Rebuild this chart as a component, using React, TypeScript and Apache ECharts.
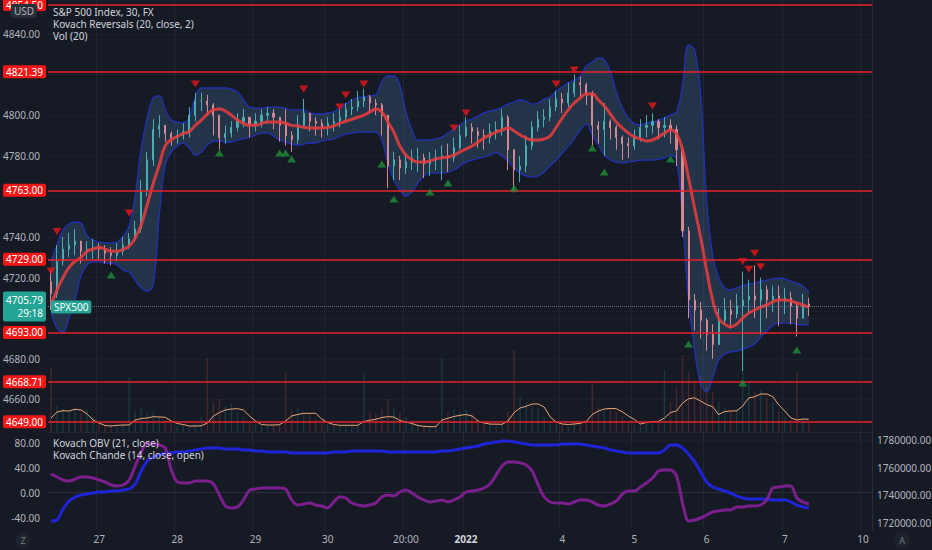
import React, { useEffect, useRef } from 'react';
import * as echarts from 'echarts';

const FONT = '"Noto Sans", "Liberation Sans", sans-serif';
const SLOTS = 137;

const timeTicks: [number, string][] = [
  [8, '27'], [21, '28'], [34, '29'], [46, '30'], [59, '20:00'], [69, '2022'],
  [85, '4'], [97, '5'], [109, '6'], [122, '7'], [135, '10'],
];

const mainLegend = ['S&P 500 Index, 30, FX', 'Kovach Reversals (20, close, 2)', 'Vol (20)'];
const lowerLegend = ['Kovach OBV (21, close)', 'Kovach Chande (14, close, open)'];

const firstOpen = 4718;
const closes = [
  4712, 4728, 4734, 4736, 4738, 4733, 4734, 4735, 4734, 4732,
  4731, 4733, 4736, 4739, 4744, 4763, 4778, 4793, 4795, 4791,
  4789, 4790, 4792, 4800, 4807, 4807, 4805, 4800, 4789, 4791,
  4794, 4797, 4799, 4795, 4797, 4800, 4801, 4799, 4795, 4790,
  4788, 4795, 4801, 4797, 4796, 4794, 4796, 4797, 4799, 4803,
  4804, 4807, 4809, 4806, 4805, 4800, 4775, 4778, 4774, 4777,
  4779, 4779, 4776, 4778, 4779, 4780, 4779, 4784, 4790, 4794,
  4792, 4790, 4789, 4792, 4793, 4799, 4783, 4773, 4775, 4785,
  4794, 4798, 4799, 4804, 4808, 4806, 4811, 4816, 4815, 4811,
  4795, 4793, 4797, 4794, 4789, 4786, 4785, 4789, 4794, 4795,
  4797, 4794, 4795, 4793, 4783, 4743, 4709, 4704, 4699, 4692,
  4687, 4699, 4704, 4702, 4706, 4709, 4711, 4709, 4714, 4709,
  4711, 4709, 4710, 4706, 4700, 4707, 4705.79,
];
const highs = [
  4724, 4736, 4740, 4742, 4744, 4738, 4738, 4739, 4737, 4736,
  4735, 4737, 4740, 4742, 4748, 4768, 4782, 4798, 4800, 4795,
  4792, 4793, 4796, 4804, 4811, 4811, 4810, 4806, 4800, 4795,
  4797, 4801, 4803, 4799, 4801, 4803, 4804, 4803, 4799, 4803,
  4792, 4800, 4808, 4801, 4799, 4798, 4799, 4801, 4803, 4806,
  4808, 4812, 4813, 4810, 4808, 4806, 4790, 4782, 4780, 4781,
  4783, 4784, 4781, 4782, 4783, 4785, 4786, 4789, 4795, 4799,
  4796, 4794, 4793, 4796, 4797, 4803, 4800, 4779, 4780, 4790,
  4797, 4802, 4803, 4808, 4812, 4811, 4816, 4820, 4819, 4816,
  4812, 4797, 4806, 4798, 4795, 4790, 4789, 4793, 4798, 4800,
  4801, 4798, 4799, 4798, 4795, 4785, 4745, 4712, 4708, 4700,
  4697, 4705, 4710, 4709, 4712, 4723, 4719, 4726, 4720, 4716,
  4716, 4716, 4715, 4713, 4708, 4712, 4710,
];
const lows = [
  4704, 4710, 4726, 4730, 4731, 4727, 4729, 4729, 4729, 4727,
  4726, 4728, 4731, 4734, 4738, 4742, 4760, 4775, 4789, 4787,
  4785, 4786, 4788, 4789, 4797, 4802, 4800, 4790, 4783, 4786,
  4789, 4792, 4794, 4789, 4792, 4794, 4796, 4793, 4787, 4785,
  4782, 4786, 4794, 4792, 4790, 4789, 4790, 4792, 4794, 4797,
  4800, 4802, 4804, 4801, 4800, 4790, 4764, 4768, 4768, 4771,
  4773, 4772, 4769, 4770, 4773, 4768, 4772, 4777, 4783, 4789,
  4786, 4784, 4783, 4786, 4788, 4790, 4773, 4762, 4767, 4772,
  4783, 4792, 4794, 4797, 4802, 4801, 4804, 4809, 4809, 4805,
  4785, 4786, 4780, 4788, 4783, 4778, 4779, 4783, 4787, 4789,
  4791, 4788, 4789, 4786, 4775, 4740, 4700, 4694, 4690, 4684,
  4680, 4690, 4697, 4695, 4700, 4674, 4702, 4700, 4692, 4700,
  4703, 4696, 4702, 4697, 4691, 4700, 4701,
];
const kovachMid = [
  4706.5, 4714, 4720, 4725, 4728, 4730, 4733, 4734, 4735, 4734,
  4733, 4733, 4734, 4735.5, 4739.5, 4746, 4756, 4766.5, 4775.5, 4785,
  4788, 4789.5, 4791, 4792, 4795, 4797.6, 4800.6, 4802.6, 4803, 4802,
  4800, 4797.6, 4796, 4795, 4795, 4796, 4796.6, 4796.6, 4796.6, 4796,
  4795, 4794.7, 4794, 4793.7, 4793.7, 4793.7, 4794, 4794.7, 4796, 4797,
  4798, 4799, 4800, 4801.6, 4803, 4801.6, 4796.6, 4791.7, 4784.8, 4780.4,
  4778, 4777, 4777, 4777.5, 4778.5, 4779, 4779.4, 4780.4, 4781.9, 4783.4,
  4784.8, 4786.8, 4788.8, 4790.3, 4791.7, 4792.7, 4793.7, 4792.2, 4790.3, 4788.8,
  4787.8, 4787.8, 4788.3, 4789.8, 4794.2, 4798.6, 4802.6, 4806, 4808.5, 4810.4,
  4810.4, 4807.5, 4804.5, 4800.6, 4796.6, 4793.7, 4791.2, 4789.3, 4788.3, 4787.3,
  4787.8, 4789.3, 4791.2, 4792.7, 4790.7, 4782.9, 4769, 4754.3, 4740, 4723.7,
  4709, 4700, 4697.1, 4695.7, 4697.1, 4700, 4702.5, 4704, 4705.5, 4706.5,
  4708, 4709, 4709, 4708.5, 4707.5, 4706.5, 4705.5,
];
const bandUpper = [
  4727.7, 4736.1, 4743.5, 4746.4, 4747.4, 4746.9, 4740.5, 4738.5, 4737.5, 4737.1,
  4737.1, 4737.5, 4740.5, 4745.4, 4760.7, 4783.8, 4799.1, 4808.5, 4809.5, 4802.6,
  4797.6, 4796.6, 4796.2, 4798.6, 4809, 4813.4, 4813.4, 4813.4, 4813.4, 4813.4,
  4812.9, 4811.4, 4807.5, 4804, 4803.5, 4803.5, 4804, 4804, 4804, 4803.5,
  4802.6, 4802.6, 4802.6, 4801.1, 4800.6, 4800.6, 4801.1, 4801.6, 4803.5, 4805.5,
  4807.5, 4808.5, 4809, 4809.5, 4810, 4816.4, 4819.3, 4819.3, 4814.9, 4801.6,
  4792.7, 4787.8, 4787.8, 4787.8, 4788.3, 4789.3, 4791.2, 4793.2, 4795.2, 4797.1,
  4798.1, 4799.6, 4801.1, 4802.1, 4802.6, 4804, 4805.5, 4806.5, 4807.5, 4807,
  4805.5, 4806, 4808, 4809, 4811.9, 4813.9, 4815.9, 4817.3, 4819.3, 4824.2,
  4826.2, 4828.2, 4827.2, 4821.3, 4811.4, 4803.5, 4798.6, 4795.7, 4795.2, 4796.2,
  4796.6, 4797.6, 4798.6, 4800.1, 4801.6, 4814.9, 4834.6, 4832.1, 4810.9, 4758.2,
  4731.1, 4719.8, 4714.9, 4713.9, 4714.9, 4715.9, 4716.8, 4717.3, 4718.3, 4718.8,
  4719.3, 4719.8, 4719.3, 4718.3, 4717.3, 4715.9, 4712.9,
];
const bandLower = [
  4703, 4695.2, 4693.2, 4700.1, 4709, 4721.3, 4726.2, 4727.7, 4727.7, 4727.2,
  4727.2, 4726.2, 4723.7, 4722.7, 4718.8, 4714.9, 4713.4, 4716.4, 4750.8, 4775.5,
  4781.9, 4784.8, 4786.3, 4783.8, 4780.4, 4781.9, 4785.3, 4787.3, 4787.3, 4786.8,
  4786.8, 4787.8, 4788.3, 4789.3, 4790.2, 4791.2, 4791.2, 4789.7, 4787.8, 4786.8,
  4785.8, 4785.3, 4785.8, 4786.3, 4786.3, 4787.3, 4787.8, 4788.3, 4789.7, 4790.7,
  4791.2, 4791.7, 4791.7, 4791.7, 4791.7, 4787.8, 4776.9, 4768.1, 4763.2, 4760.2,
  4762.2, 4766.6, 4770.1, 4771.5, 4771.5, 4771.5, 4772, 4773, 4775, 4776.9,
  4777.9, 4778.9, 4779.4, 4780.4, 4781.4, 4779.9, 4777.4, 4774, 4771.5, 4770.1,
  4769.6, 4770.1, 4772, 4775, 4777.9, 4781.4, 4784.8, 4788.3, 4792.7, 4795.7,
  4790.2, 4785.3, 4780.4, 4777.9, 4776.9, 4776.5, 4776.9, 4777.4, 4777.9, 4777.9,
  4777.9, 4778.4, 4778.9, 4780.4, 4777.9, 4748.4, 4709, 4684.3, 4668.1, 4663.7,
  4670.6, 4679.4, 4682.4, 4683.4, 4683.8, 4684.8, 4685.8, 4687.3, 4690.7, 4693.7,
  4696.6, 4697.6, 4697.6, 4697.6, 4697.1, 4696.6, 4697.1,
];
const volumes = [
  650, 260, 230, 210, 250, 190, 220, 140, 90, 70,
  80, 60, 90, 540, 210, 240, 190, 210, 160, 120,
  80, 60, 70, 60, 90, 150, 740, 300, 330, 260,
  280, 200, 140, 100, 70, 80, 60, 70, 90, 590,
  220, 240, 200, 180, 130, 90, 70, 60, 70, 80,
  90, 120, 590, 200, 180, 230, 330, 250, 200, 150,
  100, 80, 70, 60, 80, 740, 200, 230, 200, 220,
  180, 120, 80, 70, 60, 90, 200, 820, 350, 300,
  260, 240, 150, 100, 80, 70, 60, 90, 80, 120,
  490, 250, 220, 240, 200, 150, 90, 70, 60, 80,
  70, 90, 620, 300, 450, 770, 600, 500, 560, 450,
  400, 300, 250, 200, 230, 820, 500, 400, 420, 350,
  300, 200, 150, 120, 600, 130, 90,
];
const volumeMA = [
  140, 200, 213, 210, 227, 220, 180, 120, 90, 65,
  60, 67, 70, 70, 120, 135, 140, 153, 150, 147,
  110, 85, 75, 60, 60, 62, 90, 160, 195, 220,
  230, 233, 220, 160, 110, 75, 70, 70, 73, 110,
  160, 175, 187, 187, 187, 130, 95, 75, 67, 67,
  67, 67, 105, 118, 127, 145, 153, 150, 115, 100,
  85, 65, 57, 53, 53, 120, 138, 155, 167, 175,
  160, 110, 90, 79, 78, 77, 110, 195, 240, 257,
  280, 280, 250, 150, 100, 80, 75, 80, 87, 105,
  175, 210, 230, 236, 233, 200, 160, 125, 80, 95,
  104, 106, 140, 195, 210, 290, 332, 342, 310, 275,
  253, 175, 204, 210, 211, 260, 340, 353, 380, 380,
  355, 270, 210, 140, 120, 130, 127,
];
const obv = [
  1721500, 1722200, 1730200, 1735900, 1738800, 1740300, 1741000, 1741700, 1742400, 1742400,
  1743100, 1743100, 1743900, 1744600, 1748200, 1757600, 1764800, 1767700, 1769100, 1770600,
  1770600, 1771300, 1771300, 1772000, 1772700, 1773500, 1774200, 1774200, 1774200, 1773500,
  1773500, 1773500, 1772700, 1772700, 1772000, 1772000, 1771300, 1771300, 1771300, 1771300,
  1770600, 1770600, 1770600, 1770600, 1770600, 1770600, 1770600, 1771300, 1771300, 1771300,
  1772000, 1772000, 1772000, 1772000, 1772000, 1772000, 1771300, 1771300, 1771300, 1771300,
  1771300, 1771300, 1771300, 1771300, 1771300, 1772000, 1772000, 1772700, 1773500, 1774200,
  1774900, 1775600, 1777100, 1777800, 1778500, 1779200, 1779200, 1778500, 1777800, 1777100,
  1776300, 1776300, 1776300, 1776300, 1776300, 1777100, 1777100, 1777100, 1777100, 1776300,
  1775600, 1774900, 1774200, 1772700, 1772000, 1771300, 1770600, 1770600, 1770600, 1770600,
  1770600, 1770600, 1772700, 1776300, 1776300, 1774200, 1769800, 1764100, 1756900, 1749600,
  1746000, 1744600, 1743100, 1741700, 1739500, 1738100, 1737400, 1737400, 1737400, 1737400,
  1736700, 1736700, 1736700, 1735200, 1733000, 1731600, 1730900,
];
const chande = [
  30.1, 25.2, 20.4, 18.8, 22.0, 25.2, 25.2, 23.6, 20.4, 17.2,
  12.4, 10.8, 12.4, 20.4, 42.9, 65.4, 79.9, 78.3, 76.7, 71.9,
  36.5, 17.2, 15.6, 15.6, 18.8, 18.8, 18.8, 14.0, -3.7, -21.4,
  -24.6, -23.0, -11.7, 4.3, 6.0, 7.6, 7.6, 7.6, 7.6, 6.0,
  -11.7, -19.8, -18.2, -16.6, -19.8, -21.4, -24.6, -15.0, -6.9, -8.5,
  -16.6, -19.8, -21.4, -19.8, -16.6, -6.9, -3.7, -5.3, 1.1, 4.3,
  -0.5, -6.9, -11.7, -15.0, -13.3, -11.7, -15.0, -11.7, -6.9, 1.1,
  2.7, 4.3, 7.6, 14.0, 28.5, 42.9, 49.4, 49.4, 47.8, 44.5,
  34.9, 12.4, -6.9, -15.0, -16.6, -16.6, -18.2, -15.0, -11.7, -11.7,
  -15.0, -19.8, -21.4, -18.2, -13.3, -2.1, 2.7, 2.7, 9.2, 15.6,
  23.6, 34.9, 36.5, 36.5, 26.9, -16.6, -45.5, -43.9, -40.7, -35.9,
  -31.0, -29.4, -27.8, -27.8, -23.0, -23.0, -21.4, -21.4, -19.8, -11.7,
  7.6, 9.2, 10.8, 10.8, -8.5, -15.0, -18.2,
];
const sellSignals: [number, number][] = [
  [0, 4723.3], [1, 4742.7], [13, 4751.8], [24, 4815.4], [42, 4812.9], [48, 4804.0],
  [49, 4810.0], [52, 4815.4], [67, 4793.7], [69, 4801.1], [84, 4815.4], [87, 4822.3],
  [100, 4804.5], [115, 4727.9], [116, 4724.1], [117, 4732.0], [118, 4725.4],
];
const buySignals: [number, number][] = [
  [10, 4721.3], [28, 4781.4], [38, 4781.4], [39, 4781.4], [40, 4778.4], [55, 4776.0],
  [57, 4758.7], [63, 4762.2], [66, 4766.6], [77, 4764.1], [90, 4783.8], [92, 4772.0],
  [103, 4778.4], [106, 4687.3], [115, 4668.1], [124, 4684.3],
];
const levels = [4854.5, 4821.39, 4763.0, 4729.0, 4693.0, 4668.71, 4649.0];
const lastPrice = 4705.79;
const countdown = '29:18';
const symbolName = 'SPX500';

const tickMap = new Map<number, string>(timeTicks);
const categories = Array.from({ length: SLOTS }, (_, i) => String(i));

export default function App() {
  const ref = useRef<HTMLDivElement>(null);

  useEffect(() => {
    if (!ref.current) return;
    const chart = echarts.init(ref.current, undefined, { renderer: 'svg' });

    const candleData = closes.map((c, i) => {
      const o = i === 0 ? firstOpen : closes[i - 1];
      return [o, c, Math.min(lows[i], o, c), Math.max(highs[i], o, c)];
    });
    const volData = volumes.map((v, i) => ({
      value: v,
      itemStyle: {
        color: candleData[i][1] >= candleData[i][0] ? 'rgba(38,166,154,0.22)' : 'rgba(239,83,80,0.22)',
      },
    }));
    const bandWidth = bandUpper.map((u, i) => +(u - bandLower[i]).toFixed(2));
    const covered = [...levels, lastPrice];

    const axisText = { color: '#b2b5be', fontSize: 10, fontFamily: FONT };
    const vSplit = {
      show: true,
      interval: (i: number) => tickMap.has(i),
      lineStyle: { color: 'rgba(42,46,57,0.6)', width: 1 },
    };

    const levelLines = levels.map((v) => ({
      yAxis: v,
      lineStyle: { color: '#e8222a', width: 1.5, type: 'solid' },
      label: {
        show: true, position: 'start', formatter: v.toFixed(2), color: '#ffffff',
        backgroundColor: '#f71616', padding: [2, 3, 1, 3], fontSize: 10, fontFamily: FONT,
        distance: 2, borderRadius: 2,
      },
    }));
    const priceLine = {
      yAxis: lastPrice,
      lineStyle: { color: 'rgba(150,155,170,0.4)', width: 1, type: 'dotted' },
      label: {
        show: true, position: 'start', formatter: `${lastPrice.toFixed(2)}\n${countdown}`,
        color: '#ffffff', backgroundColor: '#22a393', padding: [2, 3, 2, 3], lineHeight: 13,
        fontSize: 10, fontFamily: FONT, distance: 2, borderRadius: 2,
      },
    };
    const symbolLine = {
      yAxis: lastPrice,
      lineStyle: { color: 'rgba(150,155,170,0.4)', width: 1, type: 'dotted' },
      label: {
        show: true, position: 'insideStartTop', formatter: symbolName,
        color: '#ffffff', backgroundColor: '#22a393', padding: [2, 3, 1, 3],
        fontSize: 10, fontFamily: FONT, distance: [3, -7], borderRadius: 2,
      },
    };

    const legendStyle = (lines: string[]) => ({
      text: lines.join('\n'), fill: '#d1d4dc', font: `10px ${FONT}`, lineHeight: 12,
      textVerticalAlign: 'top', verticalAlign: 'top',
    });

    const option: any = {
      animation: false,
      backgroundColor: '#161a25',
      textStyle: { fontFamily: FONT },
      grid: [
        { left: 48, right: 60, top: 0, height: 440, outerBoundsMode: 'none' },
        { left: 48, right: 60, top: 0, height: 432, outerBoundsMode: 'none' },
        { left: 48, right: 60, top: 433, height: 97, outerBoundsMode: 'none' },
      ],
      xAxis: [
        {
          type: 'category', gridIndex: 0, data: categories, boundaryGap: true,
          axisLine: { show: false }, axisTick: { show: false }, axisLabel: { show: false },
          splitLine: vSplit,
        },
        {
          type: 'category', gridIndex: 1, data: categories, boundaryGap: true,
          axisLine: { show: true, lineStyle: { color: '#242833' } }, axisTick: { show: false },
          axisLabel: { show: false }, splitLine: { show: false },
        },
        {
          type: 'category', gridIndex: 2, data: categories, boundaryGap: true,
          axisLine: { show: true, lineStyle: { color: '#2a2e39' } }, axisTick: { show: false },
          axisLabel: {
            ...axisText, margin: 4,
            interval: (i: number) => tickMap.has(i),
            formatter: (_v: string, i: number) => {
              const t = tickMap.get(i) || '';
              return t === '2022' ? `{b|${t}}` : t;
            },
            rich: { b: { fontWeight: 'bold', color: '#d1d4dc', fontSize: 10, fontFamily: FONT } },
          },
          splitLine: vSplit,
        },
      ],
      yAxis: [
        {
          type: 'value', gridIndex: 0, position: 'left', min: 4640, max: 4856.75, interval: 20,
          axisLine: { show: false }, axisTick: { show: false },
          axisLabel: {
            ...axisText, margin: 8,
            formatter: (v: number) => {
              if (!(Math.abs(v % 20) < 1e-6 && v > 4640)) return '';
              if (covered.some((c) => Math.abs(c - v) < 6.5)) return '';
              return v.toFixed(2);
            },
          },
          splitLine: { show: true, lineStyle: { color: 'rgba(42,46,57,0.35)' } },
        },
        {
          type: 'value', gridIndex: 0, position: 'right', min: 4640, max: 4856.75,
          axisLine: { show: true, lineStyle: { color: '#2a2e39' } }, axisTick: { show: false },
          axisLabel: { show: false }, splitLine: { show: false },
        },
        { type: 'value', gridIndex: 1, min: 0, max: 4320, show: false },
        {
          type: 'value', gridIndex: 2, position: 'left', min: -60, max: 96, interval: 20,
          axisLine: { show: false }, axisTick: { show: false },
          axisLabel: {
            ...axisText, margin: 8,
            formatter: (v: number) => {
              const r = Math.round(v);
              return Math.abs(v - r) < 1e-6 && r % 40 === 0 && r > -60 ? v.toFixed(2) : '';
            },
          },
          splitLine: { show: false },
        },
        {
          type: 'value', gridIndex: 2, position: 'right', min: 1715000, max: 1785000, interval: 5000,
          axisLine: { show: true, lineStyle: { color: '#2a2e39' } }, axisTick: { show: false },
          axisLabel: {
            ...axisText, margin: 5,
            formatter: (v: number) => (v % 20000 === 0 ? v.toFixed(2) : ''),
          },
          splitLine: { show: false },
        },
      ],
      series: [
        {
          name: 'bandLower', type: 'line', xAxisIndex: 0, yAxisIndex: 0, data: bandLower,
          stack: 'band', smooth: 0.4, symbol: 'none', z: 1,
          lineStyle: { color: '#2230b8', width: 1.3 },
        },
        {
          name: 'bandUpper', type: 'line', xAxisIndex: 0, yAxisIndex: 0, data: bandWidth,
          stack: 'band', smooth: 0.4, symbol: 'none', z: 1,
          lineStyle: { color: '#2230b8', width: 1.3 },
          areaStyle: { color: 'rgba(70,112,155,0.3)', opacity: 1 },
        },
        {
          name: 'volume', type: 'bar', xAxisIndex: 1, yAxisIndex: 2, data: volData,
          barWidth: 1.5, z: 1,
        },
        {
          name: 'volumeMA', type: 'line', xAxisIndex: 1, yAxisIndex: 2, data: volumeMA,
          symbol: 'none', z: 3, lineStyle: { color: '#eea676', width: 1 },
        },
        {
          name: 'price', type: 'candlestick', xAxisIndex: 0, yAxisIndex: 0, data: candleData,
          barWidth: 1.6, z: 2,
          itemStyle: {
            color: '#4aaeb0', color0: '#d48892', borderColor: '#4aaeb0', borderColor0: '#d48892',
            borderWidth: 1,
          },
        },
        {
          name: 'kovach', type: 'line', xAxisIndex: 0, yAxisIndex: 0, data: kovachMid,
          smooth: 0.5, symbol: 'none', z: 4,
          lineStyle: { color: 'rgba(230,60,62,0.88)', width: 3 },
        },
        {
          name: 'sell', type: 'scatter', xAxisIndex: 0, yAxisIndex: 0, data: sellSignals,
          symbol: 'triangle', symbolRotate: 180, symbolSize: [9, 7], z: 6, clip: false,
          itemStyle: { color: '#e8151b' },
          markLine: {
            silent: true, symbol: ['none', 'none'], animation: false,
            data: [...levelLines, priceLine, symbolLine],
          },
        },
        {
          name: 'buy', type: 'scatter', xAxisIndex: 0, yAxisIndex: 0, data: buySignals,
          symbol: 'triangle', symbolSize: [9, 7], z: 6, clip: false,
          itemStyle: { color: '#1e8c37' },
        },
        {
          name: 'Kovach OBV', type: 'line', xAxisIndex: 2, yAxisIndex: 4, data: obv,
          smooth: 0.3, symbol: 'none', z: 3, lineStyle: { color: '#2024d8', width: 3 },
        },
        {
          name: 'Kovach Chande', type: 'line', xAxisIndex: 2, yAxisIndex: 3, data: chande,
          smooth: 0.3, symbol: 'none', z: 3, lineStyle: { color: '#7c1f8e', width: 3 },
        },
      ],
      graphic: [
        { type: 'rect', z: 100, shape: { x: 11, y: 4, width: 26, height: 14, r: 2 }, style: { fill: '#2a2e39' } },
        {
          type: 'text', z: 101, x: 24, y: 11,
          style: { text: 'USD', fill: '#b2b5be', font: `10px ${FONT}`, textAlign: 'center', textVerticalAlign: 'middle', align: 'center', verticalAlign: 'middle' },
        },
        { type: 'text', z: 100, x: 53, y: 6, style: legendStyle(mainLegend) },
        { type: 'text', z: 100, x: 53, y: 437, style: legendStyle(lowerLegend) },
        { type: 'circle', z: 100, shape: { cx: 23, cy: 540, r: 8 }, style: { fill: '#1e222d' } },
        {
          type: 'text', z: 101, x: 23, y: 540,
          style: { text: 'Z', fill: '#787b86', font: `9px ${FONT}`, textAlign: 'center', textVerticalAlign: 'middle', align: 'center', verticalAlign: 'middle' },
        },
        { type: 'circle', z: 100, shape: { cx: 902, cy: 540, r: 8 }, style: { fill: '#1e222d' } },
        {
          type: 'text', z: 101, x: 902, y: 540,
          style: { text: 'A', fill: '#787b86', font: `9px ${FONT}`, textAlign: 'center', textVerticalAlign: 'middle', align: 'center', verticalAlign: 'middle' },
        },
      ],
    };

    chart.setOption(option);
    return () => chart.dispose();
  }, []);

  return (
    <div
      ref={ref}
      style={{ position: 'fixed', left: 0, top: 0, width: 932, height: 550 }}
    />
  );
}
